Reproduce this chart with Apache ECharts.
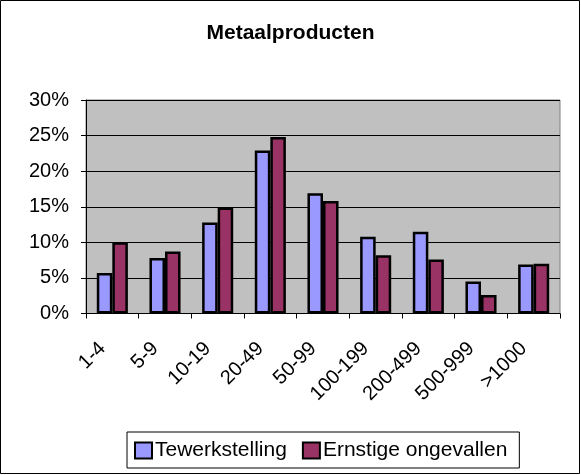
<!DOCTYPE html>
<html><head><meta charset="utf-8">
<script src="https://cdn.jsdelivr.net/npm/echarts@6/dist/echarts.min.js"></script>
<style>html,body{margin:0;padding:0;background:#fff}#c{width:581px;height:475px}</style>
</head><body><div id="c"></div>
<script>
var categories = ['1-4','5-9','10-19','20-49','50-99','100-199','200-499','500-999','>1000'];
var tewerkstelling = [5.7, 7.8, 12.8, 22.9, 16.9, 10.8, 11.5, 4.5, 6.9];
var ongevallen = [10.0, 8.7, 14.9, 24.8, 15.8, 8.2, 7.6, 2.6, 7.0];
var seriesNames = ['Tewerkstelling', 'Ernstige ongevallen'];
var yTicks = [0, 5, 10, 15, 20, 25, 30];

var font = 'Liberation Sans, Arial, sans-serif';
var chart = echarts.init(document.getElementById('c'), null, {renderer:'canvas'});
chart.setOption({
  animation:false,
  backgroundColor:'#fff',
  title:{text:'Metaalproducten', left:'center', top:18, textStyle:{fontFamily:font, fontSize:21, fontWeight:'bold', color:'#000'}},
  graphic:[{type:'rect', shape:{x:0.5,y:0.5,width:579,height:473}, style:{fill:'none', stroke:'#000', lineWidth:1}, silent:true}],
  grid:{left:86, right:21, top:100, bottom:161.5, show:true, backgroundColor:'#C0C0C0', borderColor:'#808080', borderWidth:1},
  legend:{data:seriesNames, left:127, top:432, borderColor:'#000', borderWidth:1, padding:[8,12,7,7], itemGap:15, itemWidth:17, itemHeight:16, icon:'rect',
    itemStyle:{borderColor:'#000', borderWidth:2},
    textStyle:{fontFamily:font, fontSize:21, color:'#000', padding:[0,0,0,-2]}},
  xAxis:{type:'category', data:categories,
    axisLine:{lineStyle:{color:'#000', width:1}},
    axisTick:{show:true, length:5, lineStyle:{color:'#000'}},
    axisLabel:{rotate:45, fontFamily:font, fontSize:20, color:'#000', margin:22, interval:0, padding:[0,14,0,0]}},
  yAxis:{type:'value', min:yTicks[0], max:yTicks[yTicks.length-1], interval:5,
    axisLine:{show:true, lineStyle:{color:'#000', width:1}},
    axisTick:{show:true, length:5, lineStyle:{color:'#000'}},
    axisLabel:{formatter:'{value}%', fontFamily:font, fontSize:20, color:'#000', margin:17},
    splitLine:{lineStyle:{color:'#000', width:1}}},
  series:[
    {name:seriesNames[0], type:'bar', data:tewerkstelling, barGap:'0%', barCategoryGap:'41%',
      itemStyle:{color:'#9999FF', borderColor:'#000', borderWidth:2.5}},
    {name:seriesNames[1], type:'bar', data:ongevallen, barGap:'0%', barCategoryGap:'41%',
      itemStyle:{color:'#993366', borderColor:'#000', borderWidth:2.5}}
  ]
});
</script></body></html>
